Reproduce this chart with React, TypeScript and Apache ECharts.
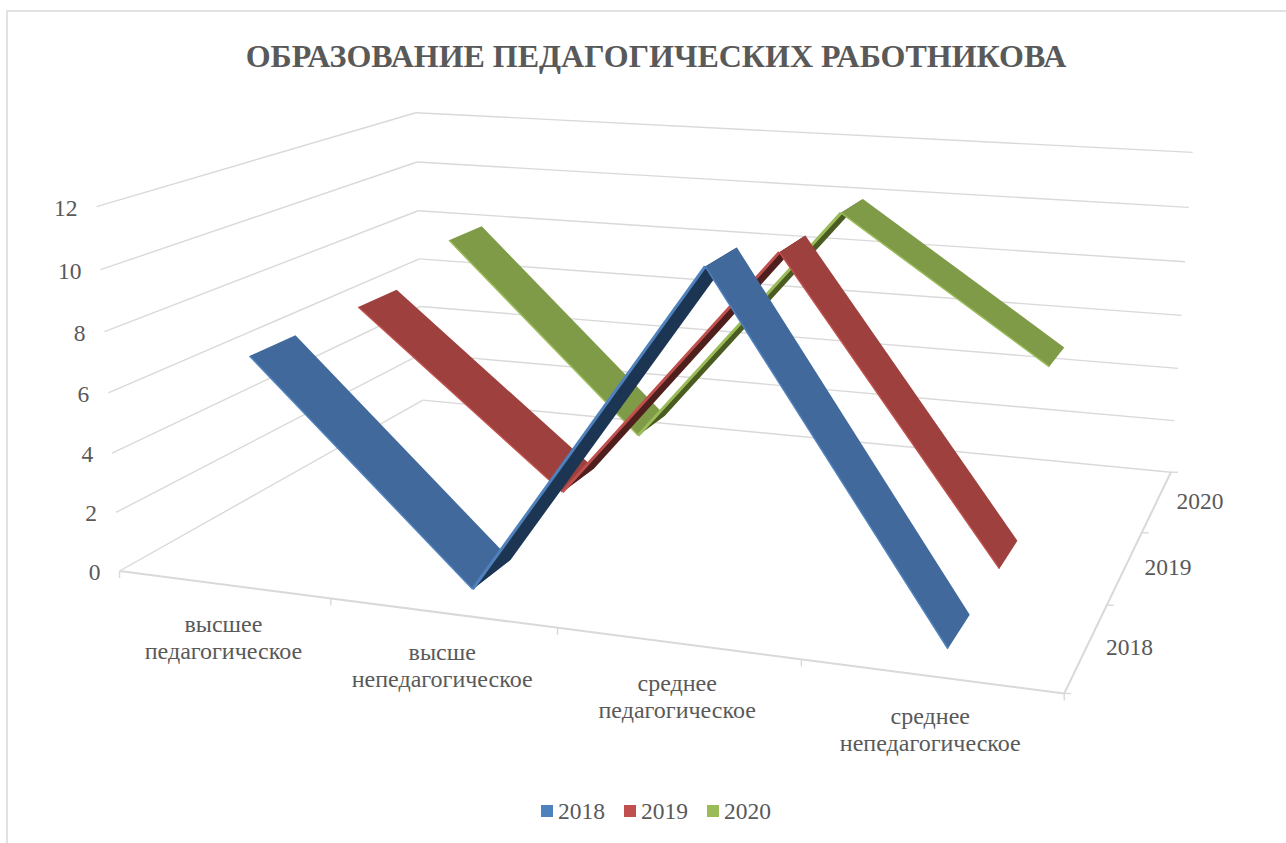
import React, { useEffect, useRef } from "react";
import * as echarts from "echarts";

const titleText = "ОБРАЗОВАНИЕ ПЕДАГОГИЧЕСКИХ РАБОТНИКОВА";
const categories = ["высшее\nпедагогическое", "высше\nнепедагогическое", "среднее\nпедагогическое", "среднее\nнепедагогическое"];
const years = ["2018", "2019", "2020"];
const values2018 = [7, 0, 11, 0];
const values2019 = [7, 1, 10, 0];
const values2020 = [8, 1, 10, 5];
const valueTicks = [0, 2, 4, 6, 8, 10, 12];
const yMax = 12;

const topColors = ["#41699c", "#9e403d", "#7f9b48"];
const underColors = ["#1c3553", "#4f1f1d", "#4a5c22"];
const edgeColors = ["#4f81bd", "#c0504d", "#9bbb59"];
const legendColors = ["#4f81bd", "#c0504d", "#9bbb59"];
const TEXT = "#595959";
const GRID = "#d9d9d9";
const FONT = "'Liberation Serif', 'Times New Roman', serif";
const RIBBON = 0.4;

// camera calibration: (along categories, depth, height) -> page pixel
const calibration: number[][] = [
  [0, 0, 0, 120.5, 571], [1, 0, 0, 1064, 693], [1, 1, 0, 1171, 472], [0, 1, 0, 422, 400],
  [0, 0, 1, 96, 206.5], [0, 1, 1, 416.7, 112.7], [1, 1, 1, 1192, 152],
  [0, 0, 0.5, 108, 393], [0, 1, 0.5, 419.5, 259], [1, 1, 0.5, 1182, 316],
  [0.25, 0, 0, 331, 598], [0.5, 0, 0, 557, 628], [0.75, 0, 0, 802, 660],
];

function solveCamera(): number[] {
  const n = 11;
  const A: number[][] = Array.from({ length: n }, () => new Array(n + 1).fill(0));
  const add = (r: number[], b: number) => {
    for (let i = 0; i < n; i++) {
      for (let j = 0; j < n; j++) A[i][j] += r[i] * r[j];
      A[i][n] += r[i] * b;
    }
  };
  for (const [x, d, h, pu, pv] of calibration) {
    const u = pu / 1000, v = pv / 1000;
    add([x, d, h, 1, 0, 0, 0, 0, -u * x, -u * d, -u * h], u);
    add([0, 0, 0, 0, x, d, h, 1, -v * x, -v * d, -v * h], v);
  }
  for (let c = 0; c < n; c++) {
    let best = c;
    for (let r = c + 1; r < n; r++) if (Math.abs(A[r][c]) > Math.abs(A[best][c])) best = r;
    [A[c], A[best]] = [A[best], A[c]];
    for (let r = 0; r < n; r++) {
      if (r === c) continue;
      const f = A[r][c] / A[c][c];
      for (let k = c; k <= n; k++) A[r][k] -= f * A[c][k];
    }
  }
  return A.map((row, i) => row[n] / row[i]);
}
const cam = solveCamera();
function project(x: number, d: number, h: number): number[] {
  const w = cam[8] * x + cam[9] * d + cam[10] * h + 1;
  return [
    (1000 * (cam[0] * x + cam[1] * d + cam[2] * h + cam[3])) / w,
    (1000 * (cam[4] * x + cam[5] * d + cam[6] * h + cam[7])) / w,
  ];
}

const PLANE = 800; // hidden grid: its two scales give the x and height fractions
function planeFractions(api: any, cat: number, value: number) {
  const c = api.coord([cat, value]);
  return { x: c[0] / PLANE, h: 1 - c[1] / PLANE };
}

function ribbonRender(values: number[], yearIndex: number) {
  return (params: any, api: any) => {
    const i = api.value(0);
    if (i >= values.length - 1) return null;
    const a = planeFractions(api, i, api.value(1));
    const b = planeFractions(api, i + 1, values[i + 1]);
    const slot = 1 / years.length;
    const mid = (yearIndex + 0.5) * slot;
    const d0 = mid - (RIBBON * slot) / 2;
    const d1 = mid + (RIBBON * slot) / 2;
    const rising = b.h > a.h;
    const a0 = project(a.x, d0, a.h), b0 = project(b.x, d0, b.h);
    const a1 = project(a.x, d1, a.h), b1 = project(b.x, d1, b.h);
    return {
      type: "group",
      z2: i,
      children: [
        {
          type: "polygon",
          z2: i * 2,
          shape: { points: [a0, b0, b1, a1] },
          style: { fill: rising ? underColors[yearIndex] : topColors[yearIndex] },
        },
        {
          type: "line",
          z2: i * 2 + 1,
          shape: { x1: a0[0], y1: a0[1], x2: b0[0], y2: b0[1] },
          style: { stroke: edgeColors[yearIndex], lineWidth: rising ? 3 : 1.5, fill: "none" },
        },
      ],
    };
  };
}

function seg(p: number[], q: number[], lineWidth = 1.4) {
  return {
    type: "line",
    shape: { x1: p[0], y1: p[1], x2: q[0], y2: q[1] },
    style: { stroke: GRID, lineWidth, fill: "none" },
  };
}
function label(text: string, x: number, y: number, align: string, size: number, lineHeight?: number) {
  return {
    type: "text",
    x,
    y,
    style: { text, fill: TEXT, font: `${size}px ${FONT}`, align, verticalAlign: "middle", lineHeight },
  };
}

function frameRender(params: any, api: any) {
  const children: any[] = [];
  // walls: one bent grid line per value tick
  valueTicks.forEach((t) => {
    const h = planeFractions(api, 0, t).h;
    const fl = project(0, 0, h), bl = project(0, 1, h), br = project(1, 1, h);
    children.push(seg(fl, bl), seg(bl, br));
    children.push(label(String(t), fl[0] - 19, fl[1] + 1, "right", 23.5));
  });
  // floor edges
  children.push(seg(project(0, 0, 0), project(1, 0, 0), 2), seg(project(1, 0, 0), project(1, 1, 0), 2));
  for (let i = 0; i <= categories.length; i++) {
    const p = project(i / categories.length, 0, 0);
    children.push(seg(p, [p[0], p[1] + 7]));
  }
  for (let i = 0; i <= years.length; i++) {
    const p = project(1, i / years.length, 0);
    children.push(seg(p, [p[0] + 7, p[1]]));
  }
  categories.forEach((c, i) => {
    const fx = planeFractions(api, i, 0).x;
    const p = project(fx, 0, 0);
    children.push(label(c, p[0], p[1] + 53, "center", 24, 27));
  });
  years.forEach((y, i) => {
    const p = project(1, (i + 0.5) / years.length, 0);
    children.push(label(y, p[0] + 43, p[1], "center", 23.5));
  });
  return { type: "group", children };
}

export default function App() {
  const ref = useRef<HTMLDivElement>(null);
  useEffect(() => {
    document.body.style.margin = "0";
    const chart = echarts.init(ref.current!, undefined, { renderer: "svg" });
    const allValues = [values2018, values2019, values2020];
    chart.setOption({
      animation: false,
      backgroundColor: "#ffffff",
      title: {
        text: titleText,
        left: 651,
        top: 35,
        textAlign: "center",
        textStyle: { color: TEXT, fontFamily: FONT, fontWeight: "bold", fontSize: 32 },
      },
      legend: {
        data: years,
        left: 536,
        top: 794,
        itemWidth: 12,
        itemHeight: 12,
        itemGap: 19,
        icon: "rect",
        selectedMode: false,
        textStyle: { color: TEXT, fontFamily: FONT, fontSize: 23.5 },
      },
      graphic: [
        {
          type: "polyline",
          silent: true,
          shape: { points: [[7, 843], [7, 11], [1286, 11]] },
          style: { stroke: GRID, lineWidth: 1.5, fill: "none" },
        },
      ],
      grid: { left: 0, top: 0, width: PLANE, height: PLANE, show: false, containLabel: false },
      xAxis: { type: "category", data: categories, show: false, boundaryGap: true },
      yAxis: { type: "value", min: 0, max: yMax, interval: 2, show: false },
      series: [
        {
          type: "custom",
          name: "frame",
          silent: true,
          z: 1,
          coordinateSystem: "cartesian2d",
          renderItem: frameRender,
          data: [[0, 0]],
          clip: false,
        },
        ...years.map((y, s) => ({
          type: "custom",
          name: y,
          silent: true,
          z: 10 - s,
          coordinateSystem: "cartesian2d",
          itemStyle: { color: legendColors[s] },
          renderItem: ribbonRender(allValues[s], s),
          data: allValues[s].map((v, i) => [i, v]),
          encode: { x: 0, y: 1 },
          clip: false,
        })),
      ],
    });
    return () => chart.dispose();
  }, []);
  return <div ref={ref} style={{ position: "absolute", left: 0, top: 0, width: 1286, height: 843 }} />;
}
